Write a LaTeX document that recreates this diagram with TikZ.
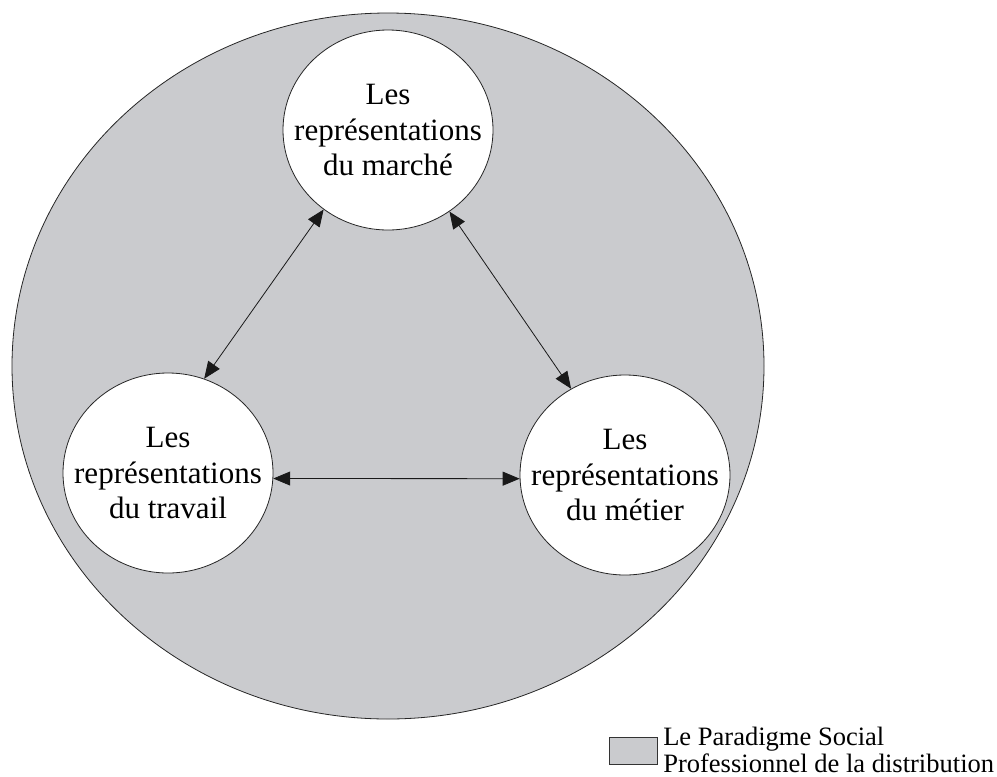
\documentclass[tikz,border=0pt]{standalone}
\usepackage{fontspec}
\setmainfont{Liberation Serif}
\usetikzlibrary{arrows.meta}
\usetikzlibrary{shapes.geometric}

\begin{document}
\begin{tikzpicture}
[x=0.75pt,y=-0.75pt,line cap=round,
% Styles
paradigm area/.style={draw=black!85,fill=paradigmcolor,line width=0.6pt},
representation/.style={ellipse,draw=black!85,fill=white,line width=0.6pt,
  minimum width=157.5pt,minimum height=150pt,inner xsep=-16pt,inner ysep=0pt,
  align=center,font=\fontsize{23.25}{26.6}\selectfont},
link/.style={{Triangle[length=12.75pt,width=10.5pt]}-{Triangle[length=12.75pt,width=10.5pt]},
  line width=0.6pt,draw=linkcolor},
legend box/.style={draw=black!80,fill=paradigmcolor,line width=0.6pt,
  minimum width=36pt,minimum height=20.25pt,inner sep=0pt},
legend text/.style={align=left,anchor=west,inner sep=0pt,
  font=\fontsize{19.9}{20.25}\selectfont}]
% Colors
\definecolor{paradigmcolor}{RGB}{202,203,206}
\colorlet{linkcolor}{black!90}
% The graphic
\useasboundingbox (0,0) rectangle (997,776);
\filldraw[paradigm area] (388,366) ellipse [x radius=376,y radius=353];
\node[representation] (marche) at (388,130) {Les\\représentations\\du marché};
\node[representation] (travail) at (168,473) {Les\\représentations\\du travail};
\node[representation] (metier) at (625,475) {Les\\représentations\\du métier};
\draw[link] (marche.231) -- (travail.69);
\draw[link] (marche.307) -- (metier.122);
\draw[link] (travail.-3) -- (metier.182);
% Legend
\node[legend box] (legende) at (633,750.5) {};
\node[legend text] (paradigme) at (663,749.5)
{Le Paradigme Social\\Professionnel de la distribution};
\end{tikzpicture}
\end{document}
